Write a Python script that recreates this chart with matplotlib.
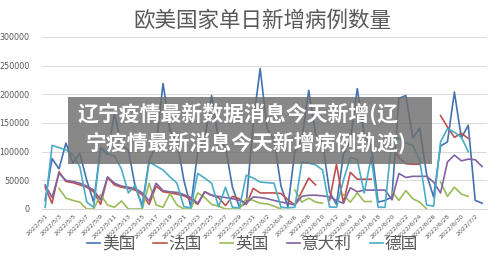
import numpy as np
import matplotlib
matplotlib.use("Agg")
import matplotlib.pyplot as plt
from matplotlib.patches import Rectangle
import datetime as dt

nan = np.nan

title = "欧美国家单日新增病例数量"
overlay_line1 = "辽宁疫情最新数据消息今天新增(辽"
overlay_line2 = "宁疫情最新消息今天新增病例轨迹)"

start = dt.date(2022, 5, 1)
dates = [start + dt.timedelta(days=i) for i in range(64)]
date_labels = [f"{d.year}/{d.month}/{d.day}" for d in dates]

series_names = ["美国", "法国", "英国", "意大利", "德国"]
series_colors = ["#4472B0", "#C0504D", "#9BBB59", "#8064A2", "#4BACC6"]

usa = [15000, 88000, 70000, 115000, 80000, 97000, 50000, 12000,
       106000, 95000, 167000, 111000, 103000, 38000, 7000, 85000,
       110000, 219000, 137000, 120000, 50000, 4000, 100000, 120000,
       198000, 120000, 108000, 38000, 3500, 10000, 150000, 245000,
       140000, 120000, 40000, 4000, 100000, 120000, 207000, 130000,
       115000, 30000, 8000, 95000, 120000, 210000, 130000, 110000,
       12000, 15000, 21000, 193000, 198000, 124000, 141000, 60000,
       21000, 110000, 117000, 204000, 124000, 146000, 15000, 10000]

france = [38000, 10000, 65000, 48000, 46000, 42000, 38000, 30000,
          8000, 55000, 42000, 38000, 36000, 33000, 25000, 8000,
          40000, 30000, 28000, 26000, 23000, 17000, 8000, 30000,
          24000, 20000, 6000, 22000, 18000, 8000, 36000, 28000,
          28000, 28000, 27000, 16000, 7000, 30000, 54000, 42000,
          nan, 15000, 78000, 10000, 64000, 52000, 52000, 52000,
          nan, nan, 108000, 90000, 79000, 78000, 78000, nan,
          nan, 163000, 143000, 125000, 132000, 123000, nan, nan]

uk = [nan, nan, 36000, 19000, 15000, 12000, 0, 0,
      25000, 7000, 3000, 14000, 0, 0, 0, 45000,
      7000, 3000, 27000, 7000, 0, 0, 28000, 20000,
      8000, 5000, 0, 0, 0, 18000, 15000, 10000,
      9000, 5000, 0, nan, 33000, 12000, 19000, 12000,
      10000, nan, nan, 25000, 12000, 28000, 13000, 13000,
      nan, nan, 30000, 15000, 32000, 18000, 12000, 0,
      nan, 47000, 22000, 38000, 26000, 22000, nan, nan]

italy = [42000, 20000, 62000, 50000, 48000, 45000, 40000, 33000,
         16000, 56000, 45000, 40000, 38000, 36000, 28000, 14000,
         45000, 32000, 30000, 29000, 25000, 20000, 10000, 30000,
         24000, 22000, 20000, 18000, 15000, 10000, 21000, 20000,
         18000, 15000, 12000, 10000, 7000, 22000, 24000, 24000,
         23000, 21000, 15000, 10000, 37000, 30000, 33000, 33000,
         33000, 33000, 16000, 62000, 55000, 57000, 57000, 57000,
         47000, 28000, 82000, 94000, 84000, 87000, 86000, 74000]

germany = [3000, 111000, 107000, 103000, 95000, 74000, 12000, 3000,
           108000, 97000, 92000, 70000, 28000, 42000, 2000, 82000,
           75000, 68000, 56000, 45000, 4000, 2000, 62000, 54000,
           45000, 4000, 38000, 3000, 2000, 59000, 54000, 47000,
           46000, 45000, 3000, 2000, 3000, 82000, 80000, 77000,
           68000, 3500, 3000, 50000, 90000, 86000, 28000, 90000,
           3000, 3000, 125000, 123000, 115000, 111000, 85000, 7000,
           5000, 117000, 140000, 134000, 125000, 100000, nan, nan]

yticks = [0, 50000, 100000, 150000, 200000, 250000, 300000]

plt.rcParams['font.family'] = ['Noto Sans CJK SC', 'DejaVu Sans']

fig = plt.figure(figsize=(5.0, 2.64), dpi=100)
ax = fig.add_axes([42/500, 55/264, (487-42)/500, (227-55)/264])

x = np.arange(len(dates))
for name, col, vals in zip(series_names, series_colors,
                           [usa, france, uk, italy, germany]):
    ax.plot(x, np.array(vals, dtype=float), color=col, lw=1.2, label=name)

ax.set_ylim(0, 300000)
ax.set_xlim(-0.45, 63.7)
ax.set_yticks(yticks)
ax.set_yticklabels([str(v) for v in yticks], fontsize=5.8, color="#595959",
                   family=['DejaVu Sans'])
ax.yaxis.grid(True, color="#D9D9D9", lw=0.7)
ax.set_axisbelow(True)
ax.set_xticks(x[::2])
ax.set_xticklabels(date_labels[::2], rotation=45, ha='right',
                   rotation_mode='anchor', fontsize=4.6, color="#595959",
                   family=['DejaVu Sans'])
ax.tick_params(axis='both', length=0)
ax.tick_params(axis='y', pad=9)
ax.tick_params(axis='x', pad=3)
for s in ['top', 'right', 'left']:
    ax.spines[s].set_visible(False)
ax.spines['bottom'].set_color("#D9D9D9")
ax.spines['bottom'].set_linewidth(0.8)

fig.text(0.525, 1 - 21/264, title, ha='center', va='center',
         fontsize=15.5, color="#595959")

leg = fig.legend(loc='center', bbox_to_anchor=(0.505, 1 - 244/264), ncol=5,
                 frameon=False, fontsize=12, handlelength=0.8,
                 handletextpad=0.1, columnspacing=1.1)
for t in leg.get_texts():
    t.set_color("#595959")

fig.patches.append(Rectangle((68/500, 1 - 164/264), (432-68)/500, (164-97)/264,
                             transform=fig.transFigure, facecolor="#6E6E6E",
                             alpha=0.82, edgecolor='none', zorder=10))
fig.text(238/500, 1 - 114/264, overlay_line1, ha='center', va='center',
         fontsize=15, color='white', fontweight='bold', zorder=11)
fig.text(246/500, 1 - 143/264, overlay_line2, ha='center', va='center',
         fontsize=15, color='white', fontweight='bold', zorder=11)

fig.savefig("out.png", dpi=100)
